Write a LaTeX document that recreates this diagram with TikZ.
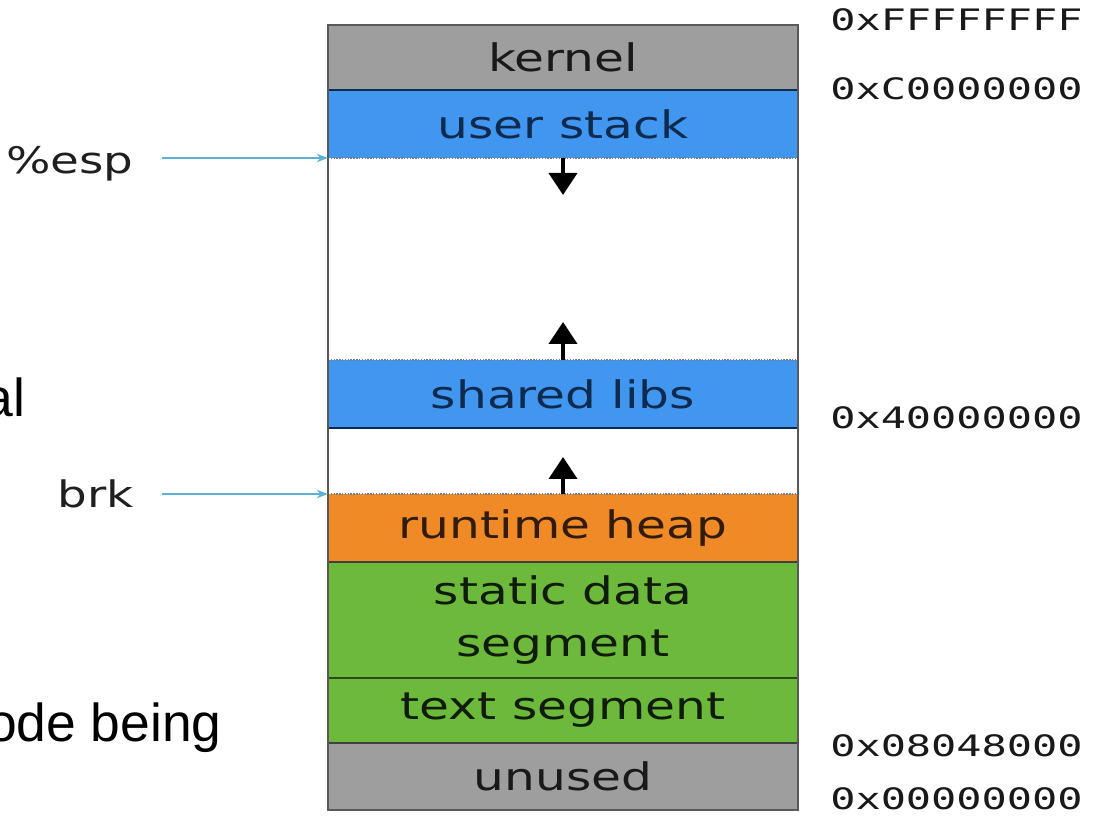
\documentclass[tikz,border=0pt]{standalone}
\usepackage{fontspec}
\setmainfont{DejaVu Sans}
\newfontfamily\slidefont{Liberation Sans}
\newfontfamily\addrfont{DejaVu Sans Mono}
\usetikzlibrary{arrows.meta}
\usetikzlibrary{positioning}
\definecolor{kgray}{HTML}{9E9E9E}
\definecolor{sblue}{HTML}{4196F0}
\definecolor{horange}{HTML}{F08A26}
\definecolor{dgreen}{HTML}{6CB93B}
\definecolor{ptrblue}{HTML}{5DB1D9}
\definecolor{navy}{HTML}{0E2A4E}
\newcommand{\wide}[1]{\scalebox{1.28}[1]{#1}}
\newcommand{\waddr}[1]{\scalebox{1.42}[1]{\addrfont #1}}
\tikzstyle{seg}=[rectangle,minimum width=11.75cm,inner sep=0,outer sep=0,
                font=\fontsize{27}{37}\selectfont,align=center,text=black!90]
\tikzstyle{addr}=[anchor=west,inner sep=0,font=\fontsize{21}{24}\selectfont,text=black!90]
\tikzstyle{reg}=[inner sep=0,font=\fontsize{26}{30}\selectfont,text=black!88]
\tikzstyle{fragtext}=[inner sep=0,anchor=base east,font=\slidefont\fontsize{38}{44}\selectfont]
\tikzstyle{ptr}=[draw=ptrblue,line width=1.2pt,-{Stealth[length=8pt,width=6pt]}]
\tikzstyle{growarrow}=[line width=3pt,-{Triangle[length=0.55cm,width=0.7cm]}]
\tikzstyle{cutline}=[densely dotted,draw=navy!60,line width=1pt]
\tikzstyle{segline}=[line width=1.2pt]

\begin{document}
\begin{tikzpicture}[node distance=0pt]
\useasboundingbox (0,0) rectangle (27.525,-20.475);

% address space, top down
\node[seg,fill=kgray,minimum height=1.625cm] (kernel) at (14.075,-1.4375) {\wide{kernel}};
\node[seg,fill=sblue,text=navy,minimum height=1.7cm,below=of kernel] (ustack) {\wide{user stack}};
\node[seg,fill=white,minimum height=5.05cm,below=of ustack] (gapA) {};
\node[seg,fill=sblue,text=navy,minimum height=1.7cm,below=of gapA] (shlib) {\wide{shared libs}};
\node[seg,fill=white,minimum height=1.65cm,below=of shlib] (gapB) {};
\node[seg,fill=horange,text=black!80!horange,minimum height=1.7cm,below=of gapB] (heap) {\wide{runtime heap}};
\node[seg,fill=dgreen,text=black!85!dgreen,minimum height=2.9cm,below=of heap] (static) {\wide{static data}\\\wide{segment}};
\node[seg,fill=dgreen,text=black!85!dgreen,minimum height=1.625cm,below=of static] (textseg) {\wide{text segment}};
\node[seg,fill=kgray,minimum height=1.675cm,below=of textseg] (unused) {\wide{unused}};

\draw[segline,draw=navy] (kernel.south west) -- (kernel.south east);
\draw[segline,draw=navy] (shlib.south west) -- (shlib.south east);
\draw[segline,draw=black!75] (heap.south west) -- (heap.south east);
\draw[segline,draw=black!60!dgreen] (static.south west) -- (static.south east);
\draw[segline,draw=black!75] (textseg.south west) -- (textseg.south east);
\draw[cutline] (ustack.south west) -- (ustack.south east);
\draw[cutline] (shlib.north west) -- (shlib.north east);
\draw[cutline] (heap.north west) -- (heap.north east);
\draw[segline,draw=black!65] (kernel.north west) rectangle (unused.south east);

% growth
\coordinate[below=0.925cm of ustack.south] (stacktip);
\coordinate[above=0.95cm of shlib.north] (libtip);
\coordinate[above=0.925cm of heap.north] (heaptip);
\draw[growarrow] (ustack.south) -- (stacktip);
\draw[growarrow] (shlib.north) -- (libtip);
\draw[growarrow] (heap.north) -- (heaptip);

% registers
\node[reg,left=4.85cm of ustack.south west,yshift=-0.15cm] (esp) {\wide{\%esp}};
\node[reg,left=4.85cm of heap.north west] (brk) {\wide{brk}};
\draw[ptr,shorten <=0.7cm] (esp.east |- ustack.south west) -- (ustack.south west);
\draw[ptr,shorten <=0.7cm] (brk.east |- heap.north west) -- (heap.north west);

% addresses
\node[addr] (aFFFF) at (20.75,-0.5) {\waddr{0xFFFFFFFF}};
\node[addr] (aC000) at (20.75,-2.225) {\waddr{0xC0000000}};
\node[addr] (a4000) at (20.75,-10.45) {\waddr{0x40000000}};
\node[addr] (a0804) at (20.75,-18.65) {\waddr{0x08048000}};
\node[addr] (a0000) at (20.75,-19.975) {\waddr{0x00000000}};

% slide text cut off at the left
\node[fragtext] (fragA) at (0.64,-10.425) {al};
\node[fragtext] (fragB) at (5.55,-18.55) {ode being};
\end{tikzpicture}
\end{document}
